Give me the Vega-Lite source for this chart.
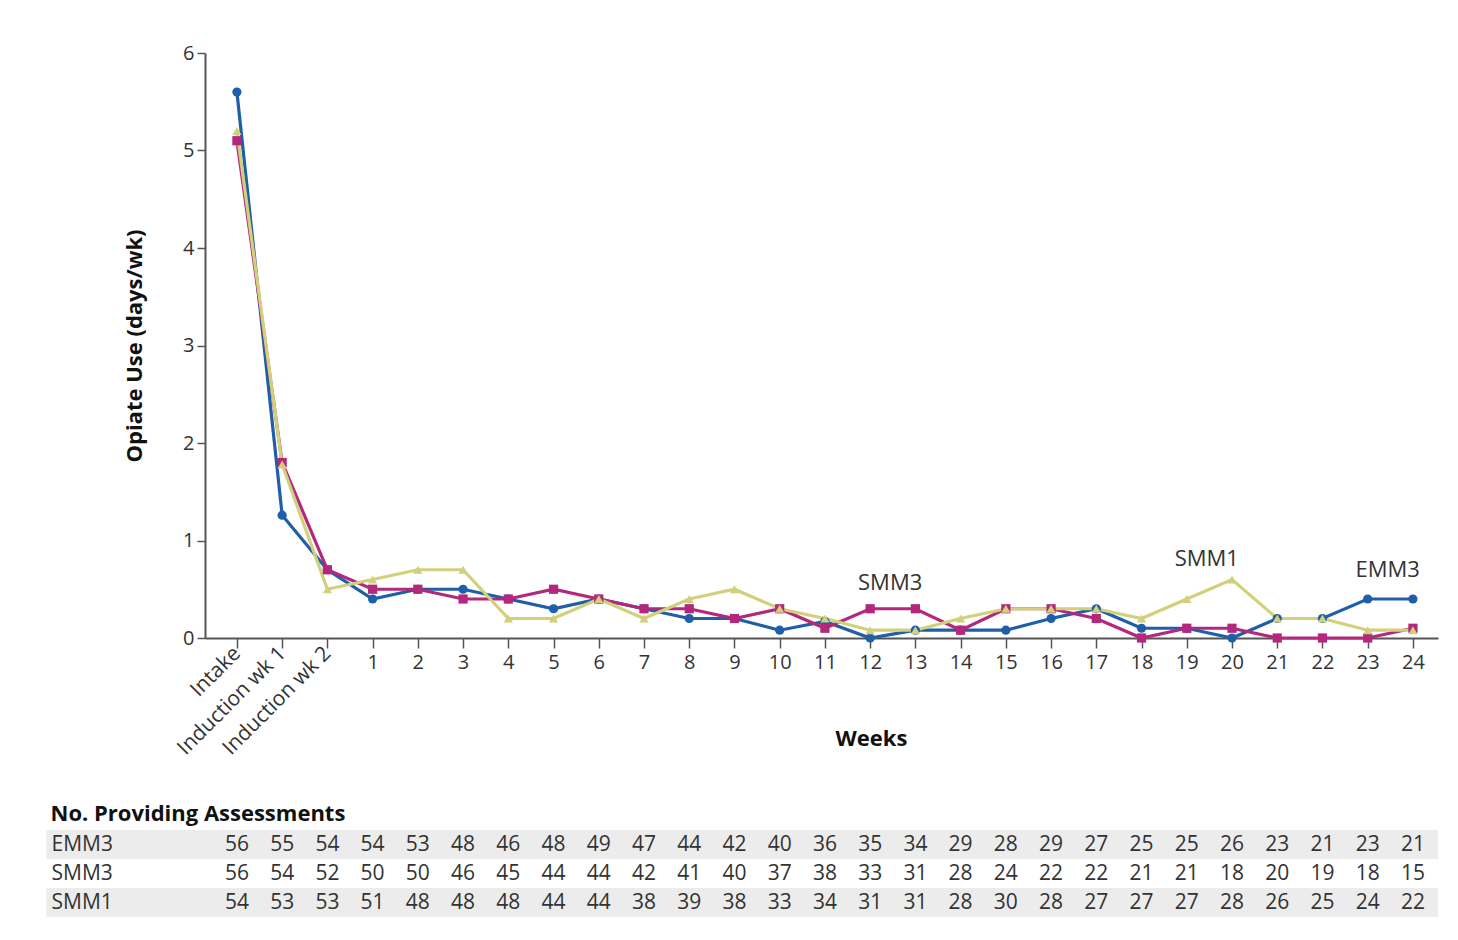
{
  "$schema": "https://vega.github.io/schema/vega-lite/v6.json",
  "background": "white",
  "padding": {"left": 31, "top": 43, "right": 5, "bottom": 5},
  "spacing": 43,
  "config": {
    "view": {"stroke": null},
    "font": "Open Sans",
    "axis": {"labelColor": "#333", "titleColor": "#111", "domainColor": "#555", "tickColor": "#555", "grid": false, "labelFont": "Open Sans", "titleFont": "Open Sans"},
    "title": {"font": "Open Sans"},
    "text": {"font": "Open Sans"}
  },
  "datasets": {
    "opiate": [
      {"group": "EMM3", "week": "Intake", "value": 5.6},
      {"group": "EMM3", "week": "Induction wk 1", "value": 1.26},
      {"group": "EMM3", "week": "Induction wk 2", "value": 0.7},
      {"group": "EMM3", "week": "1", "value": 0.4},
      {"group": "EMM3", "week": "2", "value": 0.5},
      {"group": "EMM3", "week": "3", "value": 0.5},
      {"group": "EMM3", "week": "4", "value": 0.4},
      {"group": "EMM3", "week": "5", "value": 0.3},
      {"group": "EMM3", "week": "6", "value": 0.4},
      {"group": "EMM3", "week": "7", "value": 0.3},
      {"group": "EMM3", "week": "8", "value": 0.2},
      {"group": "EMM3", "week": "9", "value": 0.2},
      {"group": "EMM3", "week": "10", "value": 0.08},
      {"group": "EMM3", "week": "11", "value": 0.17},
      {"group": "EMM3", "week": "12", "value": 0},
      {"group": "EMM3", "week": "13", "value": 0.08},
      {"group": "EMM3", "week": "14", "value": 0.08},
      {"group": "EMM3", "week": "15", "value": 0.08},
      {"group": "EMM3", "week": "16", "value": 0.2},
      {"group": "EMM3", "week": "17", "value": 0.3},
      {"group": "EMM3", "week": "18", "value": 0.1},
      {"group": "EMM3", "week": "19", "value": 0.1},
      {"group": "EMM3", "week": "20", "value": 0},
      {"group": "EMM3", "week": "21", "value": 0.2},
      {"group": "EMM3", "week": "22", "value": 0.2},
      {"group": "EMM3", "week": "23", "value": 0.4},
      {"group": "EMM3", "week": "24", "value": 0.4},
      {"group": "SMM3", "week": "Intake", "value": 5.1},
      {"group": "SMM3", "week": "Induction wk 1", "value": 1.8},
      {"group": "SMM3", "week": "Induction wk 2", "value": 0.7},
      {"group": "SMM3", "week": "1", "value": 0.5},
      {"group": "SMM3", "week": "2", "value": 0.5},
      {"group": "SMM3", "week": "3", "value": 0.4},
      {"group": "SMM3", "week": "4", "value": 0.4},
      {"group": "SMM3", "week": "5", "value": 0.5},
      {"group": "SMM3", "week": "6", "value": 0.4},
      {"group": "SMM3", "week": "7", "value": 0.3},
      {"group": "SMM3", "week": "8", "value": 0.3},
      {"group": "SMM3", "week": "9", "value": 0.2},
      {"group": "SMM3", "week": "10", "value": 0.3},
      {"group": "SMM3", "week": "11", "value": 0.1},
      {"group": "SMM3", "week": "12", "value": 0.3},
      {"group": "SMM3", "week": "13", "value": 0.3},
      {"group": "SMM3", "week": "14", "value": 0.08},
      {"group": "SMM3", "week": "15", "value": 0.3},
      {"group": "SMM3", "week": "16", "value": 0.3},
      {"group": "SMM3", "week": "17", "value": 0.2},
      {"group": "SMM3", "week": "18", "value": 0},
      {"group": "SMM3", "week": "19", "value": 0.1},
      {"group": "SMM3", "week": "20", "value": 0.1},
      {"group": "SMM3", "week": "21", "value": 0},
      {"group": "SMM3", "week": "22", "value": 0},
      {"group": "SMM3", "week": "23", "value": 0},
      {"group": "SMM3", "week": "24", "value": 0.1},
      {"group": "SMM1", "week": "Intake", "value": 5.2},
      {"group": "SMM1", "week": "Induction wk 1", "value": 1.78},
      {"group": "SMM1", "week": "Induction wk 2", "value": 0.5},
      {"group": "SMM1", "week": "1", "value": 0.6},
      {"group": "SMM1", "week": "2", "value": 0.7},
      {"group": "SMM1", "week": "3", "value": 0.7},
      {"group": "SMM1", "week": "4", "value": 0.2},
      {"group": "SMM1", "week": "5", "value": 0.2},
      {"group": "SMM1", "week": "6", "value": 0.4},
      {"group": "SMM1", "week": "7", "value": 0.2},
      {"group": "SMM1", "week": "8", "value": 0.4},
      {"group": "SMM1", "week": "9", "value": 0.5},
      {"group": "SMM1", "week": "10", "value": 0.3},
      {"group": "SMM1", "week": "11", "value": 0.2},
      {"group": "SMM1", "week": "12", "value": 0.08},
      {"group": "SMM1", "week": "13", "value": 0.08},
      {"group": "SMM1", "week": "14", "value": 0.2},
      {"group": "SMM1", "week": "15", "value": 0.3},
      {"group": "SMM1", "week": "16", "value": 0.3},
      {"group": "SMM1", "week": "17", "value": 0.3},
      {"group": "SMM1", "week": "18", "value": 0.2},
      {"group": "SMM1", "week": "19", "value": 0.4},
      {"group": "SMM1", "week": "20", "value": 0.6},
      {"group": "SMM1", "week": "21", "value": 0.2},
      {"group": "SMM1", "week": "22", "value": 0.2},
      {"group": "SMM1", "week": "23", "value": 0.08},
      {"group": "SMM1", "week": "24", "value": 0.08}
    ],
    "labels": [
      {"label": "SMM3", "week": "12", "value": 0.56},
      {"label": "SMM1", "week": "19", "value": 0.81},
      {"label": "EMM3", "week": "23", "value": 0.7}
    ],
    "counts": [
      {"group": "EMM3", "week": "Intake", "n": 56},
      {"group": "EMM3", "week": "Induction wk 1", "n": 55},
      {"group": "EMM3", "week": "Induction wk 2", "n": 54},
      {"group": "EMM3", "week": "1", "n": 54},
      {"group": "EMM3", "week": "2", "n": 53},
      {"group": "EMM3", "week": "3", "n": 48},
      {"group": "EMM3", "week": "4", "n": 46},
      {"group": "EMM3", "week": "5", "n": 48},
      {"group": "EMM3", "week": "6", "n": 49},
      {"group": "EMM3", "week": "7", "n": 47},
      {"group": "EMM3", "week": "8", "n": 44},
      {"group": "EMM3", "week": "9", "n": 42},
      {"group": "EMM3", "week": "10", "n": 40},
      {"group": "EMM3", "week": "11", "n": 36},
      {"group": "EMM3", "week": "12", "n": 35},
      {"group": "EMM3", "week": "13", "n": 34},
      {"group": "EMM3", "week": "14", "n": 29},
      {"group": "EMM3", "week": "15", "n": 28},
      {"group": "EMM3", "week": "16", "n": 29},
      {"group": "EMM3", "week": "17", "n": 27},
      {"group": "EMM3", "week": "18", "n": 25},
      {"group": "EMM3", "week": "19", "n": 25},
      {"group": "EMM3", "week": "20", "n": 26},
      {"group": "EMM3", "week": "21", "n": 23},
      {"group": "EMM3", "week": "22", "n": 21},
      {"group": "EMM3", "week": "23", "n": 23},
      {"group": "EMM3", "week": "24", "n": 21},
      {"group": "SMM3", "week": "Intake", "n": 56},
      {"group": "SMM3", "week": "Induction wk 1", "n": 54},
      {"group": "SMM3", "week": "Induction wk 2", "n": 52},
      {"group": "SMM3", "week": "1", "n": 50},
      {"group": "SMM3", "week": "2", "n": 50},
      {"group": "SMM3", "week": "3", "n": 46},
      {"group": "SMM3", "week": "4", "n": 45},
      {"group": "SMM3", "week": "5", "n": 44},
      {"group": "SMM3", "week": "6", "n": 44},
      {"group": "SMM3", "week": "7", "n": 42},
      {"group": "SMM3", "week": "8", "n": 41},
      {"group": "SMM3", "week": "9", "n": 40},
      {"group": "SMM3", "week": "10", "n": 37},
      {"group": "SMM3", "week": "11", "n": 38},
      {"group": "SMM3", "week": "12", "n": 33},
      {"group": "SMM3", "week": "13", "n": 31},
      {"group": "SMM3", "week": "14", "n": 28},
      {"group": "SMM3", "week": "15", "n": 24},
      {"group": "SMM3", "week": "16", "n": 22},
      {"group": "SMM3", "week": "17", "n": 22},
      {"group": "SMM3", "week": "18", "n": 21},
      {"group": "SMM3", "week": "19", "n": 21},
      {"group": "SMM3", "week": "20", "n": 18},
      {"group": "SMM3", "week": "21", "n": 20},
      {"group": "SMM3", "week": "22", "n": 19},
      {"group": "SMM3", "week": "23", "n": 18},
      {"group": "SMM3", "week": "24", "n": 15},
      {"group": "SMM1", "week": "Intake", "n": 54},
      {"group": "SMM1", "week": "Induction wk 1", "n": 53},
      {"group": "SMM1", "week": "Induction wk 2", "n": 53},
      {"group": "SMM1", "week": "1", "n": 51},
      {"group": "SMM1", "week": "2", "n": 48},
      {"group": "SMM1", "week": "3", "n": 48},
      {"group": "SMM1", "week": "4", "n": 48},
      {"group": "SMM1", "week": "5", "n": 44},
      {"group": "SMM1", "week": "6", "n": 44},
      {"group": "SMM1", "week": "7", "n": 38},
      {"group": "SMM1", "week": "8", "n": 39},
      {"group": "SMM1", "week": "9", "n": 38},
      {"group": "SMM1", "week": "10", "n": 33},
      {"group": "SMM1", "week": "11", "n": 34},
      {"group": "SMM1", "week": "12", "n": 31},
      {"group": "SMM1", "week": "13", "n": 31},
      {"group": "SMM1", "week": "14", "n": 28},
      {"group": "SMM1", "week": "15", "n": 30},
      {"group": "SMM1", "week": "16", "n": 28},
      {"group": "SMM1", "week": "17", "n": 27},
      {"group": "SMM1", "week": "18", "n": 27},
      {"group": "SMM1", "week": "19", "n": 27},
      {"group": "SMM1", "week": "20", "n": 28},
      {"group": "SMM1", "week": "21", "n": 26},
      {"group": "SMM1", "week": "22", "n": 25},
      {"group": "SMM1", "week": "23", "n": 24},
      {"group": "SMM1", "week": "24", "n": 22}
    ]
  },
  "vconcat": [
    {
      "width": 1233,
      "height": 585,
      "data": {"name": "opiate"},
      "layer": [
        {
          "mark": {"type": "line", "strokeWidth": 3.2},
          "encoding": {
            "x": {
              "field": "week", "type": "ordinal",
              "sort": ["Intake", "Induction wk 1", "Induction wk 2", "1", "2", "3", "4", "5", "6", "7", "8", "9", "10", "11", "12", "13", "14", "15", "16", "17", "18", "19", "20", "21", "22", "23", "24"],
              "scale": {"type": "point", "padding": 0.63, "align": 0.56},
              "axis": {
                "orient": "bottom",
                "labelExpr": "isNaN(+datum.value) ? '' : datum.label",
                "labelAngle": 0,
                "labelFontSize": 20,
                "labelPadding": 4,
                "tickSize": 10,
                "tickWidth": 1.5,
                "domainWidth": 2,
                "title": "Weeks",
                "titleFontSize": 22,
                "titleFontWeight": "bold",
                "titleX": 666,
                "titleY": 100,
                "titleBaseline": "middle"
              }
            },
            "y": {
              "field": "value", "type": "quantitative",
              "scale": {"domain": [0, 6], "nice": false},
              "axis": {
                "values": [0, 1, 2, 3, 4, 5, 6],
                "format": "d",
                "labelFontSize": 20,
                "labelPadding": 3,
                "tickSize": 8,
                "tickWidth": 1.5,
                "domainWidth": 2,
                "title": "Opiate Use (days/wk)",
                "titleFontSize": 22,
                "titleFontWeight": "bold",
                "titlePadding": 36
              }
            },
            "color": {
              "field": "group", "type": "nominal",
              "scale": {"domain": ["EMM3", "SMM3", "SMM1"], "range": ["#1f5ea8", "#b3287c", "#d2d07a"]},
              "legend": null
            }
          }
        },
        {
          "mark": {"type": "point", "filled": true, "size": 85, "opacity": 1},
          "encoding": {
            "x": {
              "field": "week", "type": "ordinal",
              "sort": ["Intake", "Induction wk 1", "Induction wk 2", "1", "2", "3", "4", "5", "6", "7", "8", "9", "10", "11", "12", "13", "14", "15", "16", "17", "18", "19", "20", "21", "22", "23", "24"],
              "axis": {
                "orient": "bottom",
                "labelExpr": "isNaN(+datum.value) ? datum.label : ''",
                "labelAngle": -45,
                "labelAlign": "right",
                "labelBaseline": "middle",
                "labelFontSize": 21,
                "labelPadding": 12,
                "ticks": false,
                "domain": false,
                "title": null
              }
            },
            "y": {"field": "value", "type": "quantitative"},
            "color": {"field": "group", "type": "nominal", "legend": null},
            "shape": {
              "field": "group", "type": "nominal",
              "scale": {"domain": ["EMM3", "SMM3", "SMM1"], "range": ["circle", "square", "triangle-up"]},
              "legend": null
            }
          }
        },
        {
          "data": {"name": "labels"},
          "mark": {"type": "text", "dx": 20, "fontSize": 22, "color": "#333"},
          "encoding": {
            "x": {
              "field": "week", "type": "ordinal",
              "sort": ["Intake", "Induction wk 1", "Induction wk 2", "1", "2", "3", "4", "5", "6", "7", "8", "9", "10", "11", "12", "13", "14", "15", "16", "17", "18", "19", "20", "21", "22", "23", "24"],
              "axis": null
            },
            "y": {"field": "value", "type": "quantitative"},
            "text": {"field": "label"}
          }
        }
      ],
      "resolve": {"axis": {"x": "independent"}}
    },
    {
      "width": 1233,
      "height": 87,
      "title": {"text": "No. Providing Assessments", "anchor": "start", "frame": "bounds", "fontSize": 22, "fontWeight": "bold", "color": "#111", "dx": 19, "offset": 4},
      "data": {"name": "counts"},
      "layer": [
        {
          "transform": [{"filter": "datum.group !== 'SMM3' && datum.week === 'Intake'"}],
          "mark": {"type": "rect", "color": "#ececec"},
          "encoding": {
            "y": {
              "field": "group", "type": "nominal",
              "sort": ["EMM3", "SMM3", "SMM1"],
              "scale": {"type": "band", "paddingInner": 0, "paddingOuter": 0}
            }
          }
        },
        {
          "mark": {"type": "text", "fontSize": 21, "color": "#333"},
          "encoding": {
            "x": {
              "field": "week", "type": "ordinal",
              "sort": ["Intake", "Induction wk 1", "Induction wk 2", "1", "2", "3", "4", "5", "6", "7", "8", "9", "10", "11", "12", "13", "14", "15", "16", "17", "18", "19", "20", "21", "22", "23", "24"],
              "scale": {"type": "point", "padding": 0.63, "align": 0.56},
              "axis": null
            },
            "y": {
              "field": "group", "type": "nominal",
              "sort": ["EMM3", "SMM3", "SMM1"],
              "scale": {"type": "band", "paddingInner": 0, "paddingOuter": 0},
              "axis": {
                "title": null,
                "domain": false,
                "tickSize": 159,
                "tickWidth": 29,
                "tickColor": {"condition": {"test": "datum.value === 'SMM3'", "value": "white"}, "value": "#ececec"},
                "labelAlign": "left",
                "labelBaseline": "middle",
                "labelPadding": -5,
                "labelFontSize": 21,
                "labelColor": "#333"
              }
            },
            "text": {"field": "n"}
          }
        }
      ]
    }
  ]
}
